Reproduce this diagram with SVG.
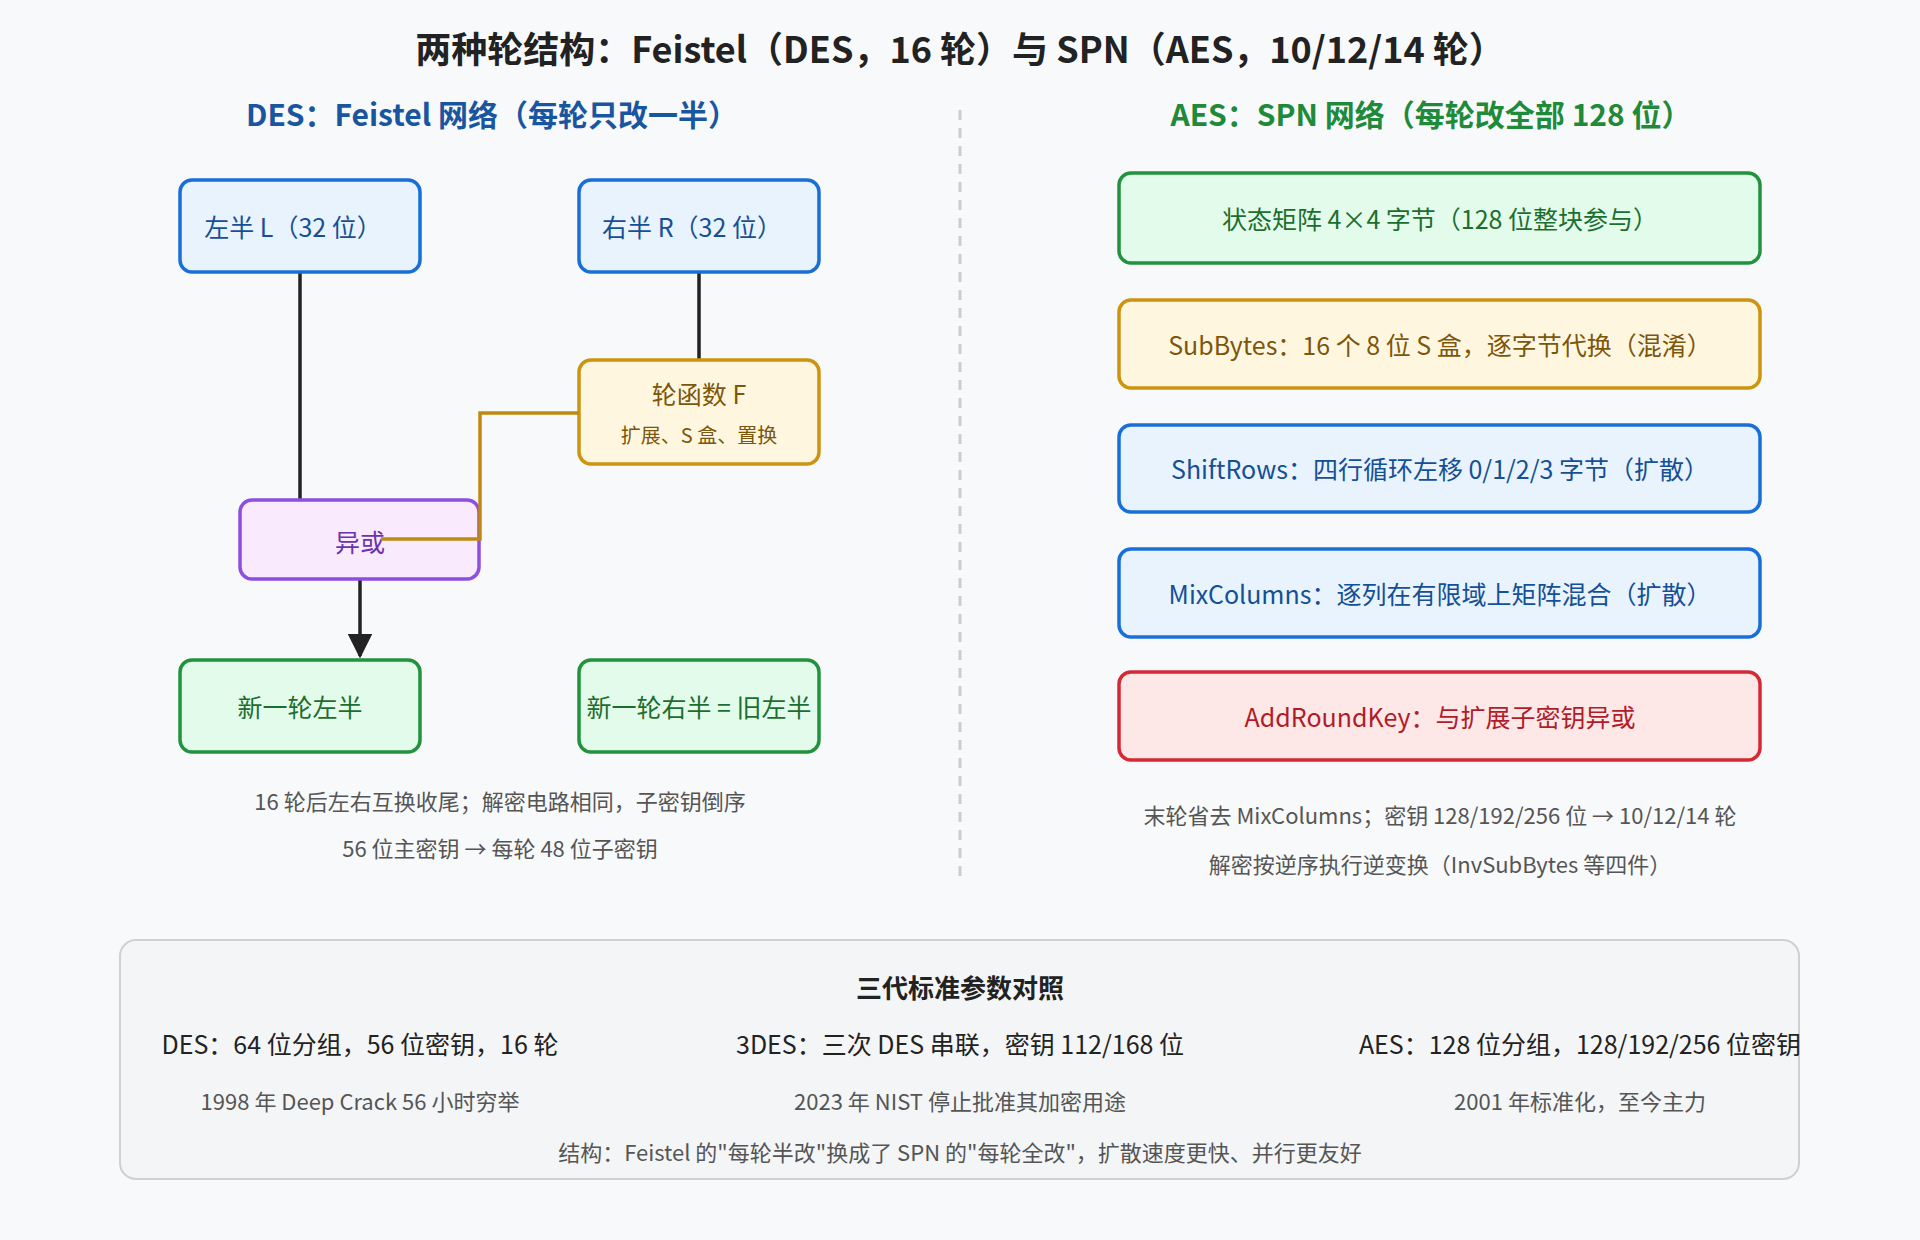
<svg xmlns="http://www.w3.org/2000/svg" width="1920" height="1240" viewBox="0 0 1920 1240">
<defs>
<style>
text{font-family:"Noto Sans CJK SC","Noto Sans",sans-serif;text-anchor:middle;dominant-baseline:central}
.t{font-size:25px}
.s{font-size:22px;fill:#555}
.blue rect{fill:#e8f3fd;stroke:#1a6fd6;stroke-width:3.5}
.blue text{fill:#154f96}
.green rect{fill:#e3fbea;stroke:#23923e;stroke-width:3.5}
.green text{fill:#1c6e2e}
.gold rect{fill:#fff6e0;stroke:#cc9410;stroke-width:3.5}
.gold text{fill:#7c560a}
.purple rect{fill:#faeafd;stroke:#8c4fdf;stroke-width:3.5}
.purple text{fill:#6a33b0}
.red rect{fill:#fde7e7;stroke:#d42a36;stroke-width:3.5}
.red text{fill:#b01c28}
</style>
<marker id="ah" viewBox="0 0 10 10" refX="9" refY="5" markerWidth="7" markerHeight="7" orient="auto"><path d="M0,0L10,5L0,10z" fill="#222"/></marker>
</defs>
<rect width="1920" height="1240" fill="#f8f9fb"/>
<text x="960" y="47" font-size="36" font-weight="bold" fill="#222">两种轮结构：Feistel（DES，16 轮）与 SPN（AES，10/12/14 轮）</text>
<text x="492" y="113" font-size="30" font-weight="bold" fill="#1a56a0">DES：Feistel 网络（每轮只改一半）</text>
<text x="1431" y="113" font-size="30" font-weight="bold" fill="#1e8a3a">AES：SPN 网络（每轮改全部 128 位）</text>
<line x1="960" y1="110" x2="960" y2="879" stroke="#ccc" stroke-width="3" stroke-dasharray="10,8"/>
<g id="connectors" fill="none" stroke-width="3.5">
<line x1="300" y1="272" x2="300" y2="500" stroke="#222"/>
<line x1="699" y1="272" x2="699" y2="360" stroke="#222"/>
<line x1="360" y1="579" x2="360" y2="656" stroke="#222" marker-end="url(#ah)"/>
</g>
<g id="nL" class="blue"><rect x="180" y="180" width="240" height="92" rx="12"/><text class="t" x="293" y="226">左半 L（32 位）</text></g>
<g id="nR" class="blue"><rect x="579" y="180" width="240" height="92" rx="12"/><text class="t" x="692" y="226">右半 R（32 位）</text></g>
<g id="nF" class="gold"><rect x="579" y="360" width="240" height="104" rx="12"/><text class="t" x="699" y="393">轮函数 F</text><text x="699" y="434" font-size="20">扩展、S 盒、置换</text></g>
<g id="nX" class="purple"><rect x="240" y="500" width="239" height="79" rx="12"/><text class="t" x="360" y="541">异或</text></g>
<polyline points="579,413 480,413 480,539 381,539" fill="none" stroke="#c08a10" stroke-width="3.5"/>
<g id="nNL" class="green"><rect x="180" y="660" width="240" height="92" rx="12"/><text class="t" x="300" y="706">新一轮左半</text></g>
<g id="nNR" class="green"><rect x="579" y="660" width="240" height="92" rx="12"/><text class="t" x="699" y="706">新一轮右半 = 旧左半</text></g>
<text class="s" x="500" y="800">16 轮后左右互换收尾；解密电路相同，子密钥倒序</text>
<text class="s" x="500" y="847">56 位主密钥 → 每轮 48 位子密钥</text>
<g id="a1" class="green"><rect x="1119" y="173" width="641" height="90" rx="12"/><text class="t" x="1440" y="218">状态矩阵 4×4 字节（128 位整块参与）</text></g>
<g id="a2" class="gold"><rect x="1119" y="300" width="641" height="88" rx="12"/><text class="t" x="1440" y="344">SubBytes：16 个 8 位 S 盒，逐字节代换（混淆）</text></g>
<g id="a3" class="blue"><rect x="1119" y="425" width="641" height="87" rx="12"/><text class="t" x="1440" y="468">ShiftRows：四行循环左移 0/1/2/3 字节（扩散）</text></g>
<g id="a4" class="blue"><rect x="1119" y="549" width="641" height="88" rx="12"/><text class="t" x="1440" y="593">MixColumns：逐列在有限域上矩阵混合（扩散）</text></g>
<g id="a5" class="red"><rect x="1119" y="672" width="641" height="88" rx="12"/><text class="t" x="1440" y="716">AddRoundKey：与扩展子密钥异或</text></g>
<text class="s" x="1440" y="814">末轮省去 MixColumns；密钥 128/192/256 位 → 10/12/14 轮</text>
<text class="s" x="1440" y="863">解密按逆序执行逆变换（InvSubBytes 等四件）</text>
<g id="panel">
<rect x="120" y="940" width="1679" height="239" rx="16" fill="#f4f5f7" stroke="#d0d0d0" stroke-width="2"/>
<text x="960" y="986" font-size="26" font-weight="bold" fill="#222">三代标准参数对照</text>
<text x="360" y="1043" font-size="25" fill="#222">DES：64 位分组，56 位密钥，16 轮</text>
<text x="960" y="1043" font-size="25" fill="#222">3DES：三次 DES 串联，密钥 112/168 位</text>
<text x="1580" y="1043" font-size="25" fill="#222">AES：128 位分组，128/192/256 位密钥</text>
<text class="s" x="360" y="1100">1998 年 Deep Crack 56 小时穷举</text>
<text class="s" x="960" y="1100">2023 年 NIST 停止批准其加密用途</text>
<text class="s" x="1580" y="1100">2001 年标准化，至今主力</text>
<text class="s" x="960" y="1151">结构：Feistel 的"每轮半改"换成了 SPN 的"每轮全改"，扩散速度更快、并行更友好</text>
</g>
</svg>
